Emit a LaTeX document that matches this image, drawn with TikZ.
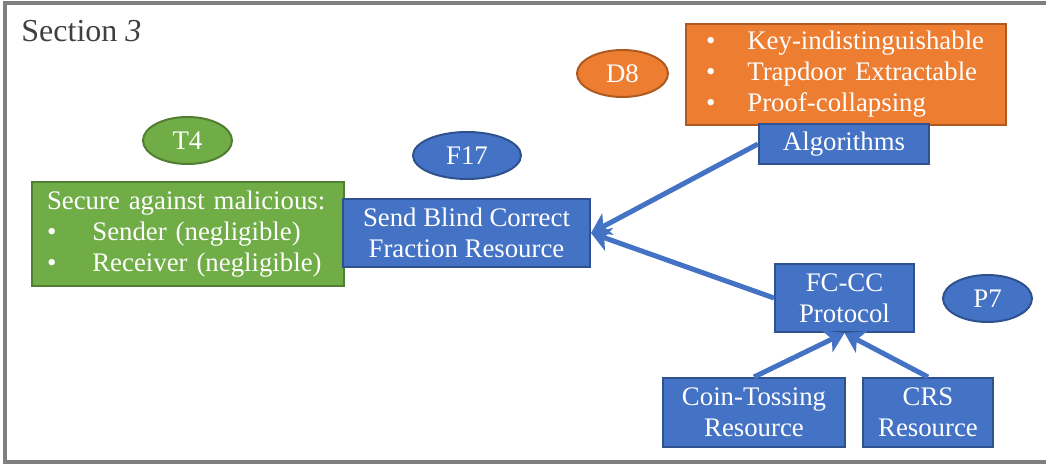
\documentclass[tikz,border=0pt]{standalone}
\usepackage{fontspec}
\setmainfont{Liberation Serif}
\usetikzlibrary{shapes.geometric}
\usetikzlibrary{arrows.meta}
\definecolor{boxblue}{HTML}{4472C4}
\definecolor{edgeblue}{HTML}{2F528F}
\definecolor{boxgreen}{HTML}{70AD47}
\definecolor{edgegreen}{HTML}{507E32}
\definecolor{boxorange}{HTML}{ED7D31}
\definecolor{edgeorange}{HTML}{AE5A21}
\definecolor{framegray}{HTML}{7F7F7F}
\def\thickness{2.5pt}
\tikzset{
block/.style 2 args={
	draw=#2, fill=#1, line width=1pt, text=white,
	font=\fontsize{13.4}{15.5}\selectfont, inner sep=0pt
},
bluebox/.style 2 args={block={boxblue}{edgeblue}, align=center,
	minimum width=#1, minimum height=#2},
tag/.style 2 args={ellipse, block={#1}{#2},
	minimum width=44.5pt, minimum height=23.5pt},
link/.style={line width=\thickness, draw=boxblue,
	-{Stealth[length=9.5pt,width=12pt,inset=2.5pt]}},
}

\begin{document}
\begin{tikzpicture}[x=0.5pt, y=-0.5pt]
\useasboundingbox (0,0) rectangle (1046,465);
\draw[framegray, line width=2pt] (5,3) rectangle (1060,462);
\node[anchor=west, inner sep=0pt, text=black!75, font=\fontsize{16}{18}\selectfont] (title) at (21,31) {Section \textit{3}};

%Place the nodes
\node[block={boxgreen}{edgegreen}, anchor=north west, align=left,
	minimum width=156pt, minimum height=52pt, text width=141pt, inner xsep=7.5pt] (secure) at (31,181)
	{Secure against malicious:\\
	\textbullet\hspace{18pt}Sender (negligible)\\
	\textbullet\hspace{18pt}Receiver (negligible)};
\node[block={boxorange}{edgeorange}, anchor=north west, align=left,
	minimum width=160pt, minimum height=50.5pt, text width=140pt, inner xsep=10pt] (props) at (685,23)
	{\textbullet\hspace{16pt}Key-indistinguishable\\
	\textbullet\hspace{16pt}Trapdoor Extractable\\
	\textbullet\hspace{16pt}Proof-collapsing};

\node[bluebox={123.5pt}{34pt}] (send) at (466.5,233) {Send Blind Correct\\Fraction Resource};
\node[bluebox={85pt}{20pt}] (algo) at (844,144) {Algorithms};
\node[bluebox={69.5pt}{34pt}] (fccc) at (844.5,298) {FC-CC\\Protocol};
\node[bluebox={91pt}{34.5pt}] (coin) at (754,412.5) {Coin-Tossing\\Resource};
\node[bluebox={65pt}{34.5pt}] (crs) at (928,412.5) {CRS\\Resource};

\node[tag={boxgreen}{edgegreen}] (T4) at (187.5,140.5) {T4};
\node[tag={boxblue}{edgeblue}, minimum width=54pt] (F17) at (467,155.5) {F17};
\node[tag={boxorange}{edgeorange}, minimum width=45.5pt] (D8) at (622.5,73.5) {D8};
\node[tag={boxblue}{edgeblue}] (P7) at (987.5,298.5) {P7};

%
\draw[link] (algo.west) to (send.east);
\draw[link] (fccc.west) to (send.east);
\draw[link] (coin.north) to (fccc.south);
\draw[link] (crs.north) to (fccc.south);

\end{tikzpicture}
\end{document}
